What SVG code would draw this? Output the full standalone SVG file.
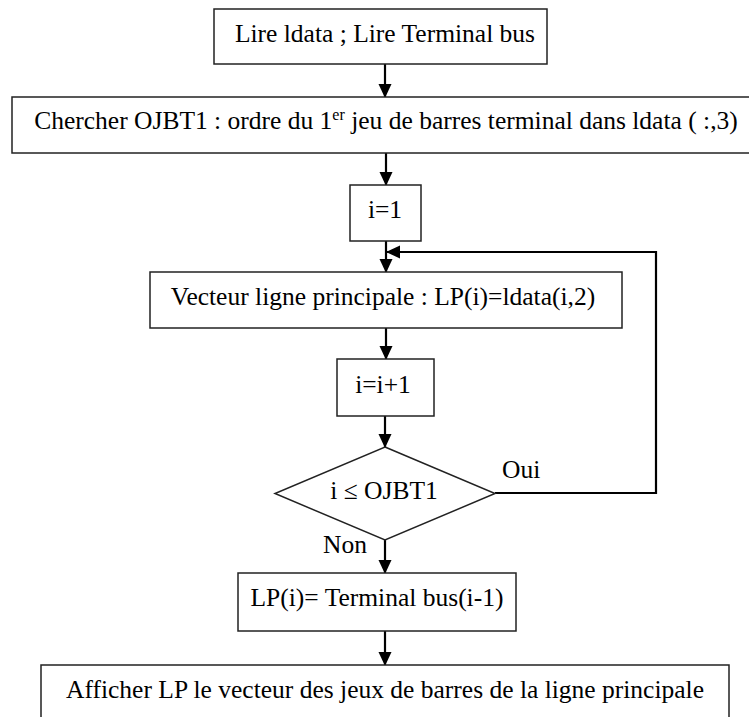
<svg xmlns="http://www.w3.org/2000/svg" width="749" height="717" viewBox="0 0 749 717">
  <style>
    .box { fill: #ffffff; stroke: #222222; stroke-width: 1.5; }
    .txt { font-family: "Liberation Serif", "Times New Roman", serif; font-size: 25.5px; fill: #000000; text-anchor: middle; }
    .lbl { font-family: "Liberation Serif", "Times New Roman", serif; font-size: 25.5px; fill: #000000; }
    .edge { fill: none; stroke: #000000; stroke-width: 2.2; }
  </style>
  <defs>
    <marker id="arrow" viewBox="0 0 14 14" refX="13" refY="7" markerWidth="14" markerHeight="14" markerUnits="userSpaceOnUse" orient="auto">
      <path d="M0,0.5 L14,7 L0,13.5 Z" fill="#000000"/>
    </marker>
  </defs>
  <rect width="749" height="717" fill="#ffffff"/>

  <g id="connectors">
    <line class="edge" x1="385" y1="64" x2="385" y2="97" marker-end="url(#arrow)"/>
    <line class="edge" x1="386" y1="153" x2="386" y2="185" marker-end="url(#arrow)"/>
    <line class="edge" x1="386" y1="241" x2="386" y2="272" marker-end="url(#arrow)"/>
    <polyline class="edge" points="495,493 656,493 656,252 387,252" marker-end="url(#arrow)"/>
    <line class="edge" x1="386" y1="328" x2="386" y2="359" marker-end="url(#arrow)"/>
    <line class="edge" x1="385" y1="416" x2="385" y2="447" marker-end="url(#arrow)"/>
    <line class="edge" x1="385" y1="540" x2="385" y2="573" marker-end="url(#arrow)"/>
    <line class="edge" x1="385" y1="631" x2="385" y2="665" marker-end="url(#arrow)"/>
    <text class="lbl" x="502" y="478">Oui</text>
    <text class="lbl" x="323" y="553">Non</text>
  </g>

  <g id="read">
    <rect class="box" x="214" y="9" width="333" height="55"/>
    <text class="txt" x="385" y="42">Lire ldata ; Lire Terminal bus</text>
  </g>

  <g id="search">
    <rect class="box" x="12" y="97" width="760" height="56"/>
    <text class="txt" x="386" y="129">Chercher OJBT1 : ordre du 1<tspan font-size="16" dy="-9">er</tspan><tspan dy="9"> jeu de barres terminal dans ldata ( :,3)</tspan></text>
  </g>

  <g id="init">
    <rect class="box" x="350" y="185" width="71" height="56"/>
    <text class="txt" x="385" y="218">i=1</text>
  </g>

  <g id="vector">
    <rect class="box" x="150" y="272" width="472" height="56"/>
    <text class="txt" x="383" y="305">Vecteur ligne principale : LP(i)=ldata(i,2)</text>
  </g>

  <g id="increment">
    <rect class="box" x="337" y="359" width="97" height="57"/>
    <text class="txt" x="383" y="393">i=i+1</text>
  </g>

  <g id="test">
    <polygon class="box" points="385,447 495,493.5 385,540 275,493.5"/>
    <text class="txt" x="384" y="499">i ≤ OJBT1</text>
  </g>

  <g id="last">
    <rect class="box" x="238" y="573" width="278" height="58"/>
    <text class="txt" x="377" y="606">LP(i)= Terminal bus(i-1)</text>
  </g>

  <g id="display">
    <rect class="box" x="41" y="665" width="688" height="80"/>
    <text class="txt" x="385" y="698">Afficher LP le vecteur des jeux de barres de la ligne principale</text>
  </g>
</svg>
